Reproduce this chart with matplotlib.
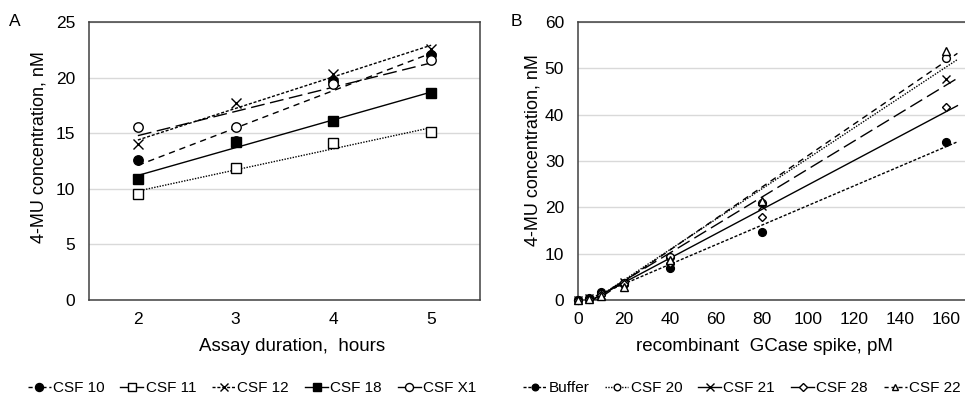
import numpy as np
import matplotlib
matplotlib.use("Agg")
import matplotlib.pyplot as plt
from matplotlib.lines import Line2D

plt.rcParams['font.family'] = ['Liberation Sans', 'DejaVu Sans']

# panel A: assay duration
hours = [2, 3, 4, 5]
csf10 = [12.6, 14.3, 19.7, 22.0]
csf11 = [9.5, 11.9, 14.1, 15.1]
csf12 = [14.0, 17.7, 20.3, 22.6]
csf18 = [10.9, 14.2, 16.1, 18.6]
csfx1 = [15.6, 15.6, 19.4, 21.6]

# panel B: GCase spike
spike = [0, 5, 10, 20, 40, 80, 160]
buffer_ = [0.0, 0.4, 1.8, 3.5, 7.0, 14.6, 34.0]
csf20 = [0.0, 0.3, 1.2, 3.6, 9.3, 21.0, 52.2]
csf21 = [0.0, 0.4, 1.0, 3.8, 8.5, 20.2, 47.8]
csf28 = [0.0, 0.3, 1.0, 3.4, 8.0, 18.0, 41.7]
csf22 = [0.0, 0.2, 0.8, 2.7, 8.7, 21.3, 53.7]

fine = (0, (2.2, 1.3))
dash = (0, (4.5, 3.5))
dot = (0, (1, 1))
longd = (0, (10, 4))
solid = '-'

# name, y, marker, filled, trend style, legend style
series_a = [
    ("CSF 10", csf10, 'o', True, dash, (0, (3, 2))),
    ("CSF 11", csf11, 's', False, dot, solid),
    ("CSF 12", csf12, 'x', False, fine, fine),
    ("CSF 18", csf18, 's', True, solid, solid),
    ("CSF X1", csfx1, 'o', False, longd, solid),
]
series_b = [
    ("Buffer", buffer_, 'o', True, fine, fine),
    ("CSF 20", csf20, 'o', False, dot, dot),
    ("CSF 21", csf21, 'x', False, longd, solid),
    ("CSF 28", csf28, 'D', False, solid, solid),
    ("CSF 22", csf22, '^', False, dash, (0, (3, 2))),
]

SPINE = '#404040'
GRID = '#d9d9d9'

fig = plt.figure(figsize=(9.65, 3.95), dpi=100)
axA = fig.add_axes([89 / 965, 95 / 395, 391 / 965, 278 / 395])
axB = fig.add_axes([578 / 965, 95 / 395, 387 / 965, 278 / 395])


def draw(ax, x, series, ms, x_end):
    handles = []
    for name, y, mk, filled, ts, ls in series:
        fc = 'black' if filled else 'white'
        mks = ms * (0.8 if mk == 'D' else 1.0) * (1.1 if mk == 'x' else 1.0)
        ax.plot(x, y, linestyle='none', marker=mk, markersize=mks,
                markerfacecolor=fc, markeredgecolor='black',
                markeredgewidth=1.0, zorder=4, clip_on=False)
        k, b = np.polyfit(x, y, 1)
        xx = np.array([x[0], x_end])
        ax.plot(xx, k * xx + b, color='black', linestyle=ts, linewidth=1.0,
                zorder=3)
        handles.append(Line2D([], [], color='black', linestyle=ls,
                              linewidth=1.0, marker=mk, markersize=mks * 0.85,
                              markerfacecolor=fc, markeredgecolor='black',
                              label=name))
    return handles


hA = draw(axA, hours, series_a, 6.8, 5)
hB = draw(axB, spike, series_b, 5.6, 165)

axA.set_xlim(1.5, 5.5)
axA.set_ylim(0, 25)
axA.set_xticks(hours)
axA.set_yticks([0, 5, 10, 15, 20, 25])
axB.set_xlim(0, 168.3)
axB.set_ylim(0, 60)
axB.set_xticks(range(0, 161, 20))
axB.set_yticks(range(0, 61, 10))

for ax in (axA, axB):
    ax.yaxis.grid(True, color=GRID, linewidth=1.0)
    ax.set_axisbelow(True)
    ax.tick_params(length=0, labelsize=12.5)
    ax.tick_params(axis='y', pad=10)
    ax.tick_params(axis='x', pad=9)
    for s in ax.spines.values():
        s.set_color(SPINE)
        s.set_linewidth(1.1)
axB.spines['right'].set_visible(False)

axA.set_xlabel("Assay duration,  hours", fontsize=13.5, va='center')
axA.xaxis.set_label_coords(0.52, -0.169)
axA.set_ylabel("4-MU concentration, nM", fontsize=13, va='center')
axA.yaxis.set_label_coords(-0.128, 0.55)

axB.set_xlabel("recombinant  GCase spike, pM", fontsize=13.5, va='center')
axB.xaxis.set_label_coords(0.483, -0.169)
axB.set_ylabel("4-MU concentration, nM", fontsize=13, va='center')
axB.yaxis.set_label_coords(-0.116, 0.54)

fig.text(15 / 965, 1 - 22 / 395, "A", fontsize=12.5, ha='center', va='center')
fig.text(516 / 965, 1 - 22 / 395, "B", fontsize=12.5, ha='center', va='center')

legkw = dict(ncol=5, frameon=False, fontsize=11, handlelength=1.5,
             handletextpad=0.15, columnspacing=1.05, loc='center')
fig.legend(handles=hA, bbox_to_anchor=(252 / 965, 1 - 388 / 395), **legkw)
fig.legend(handles=hB, bbox_to_anchor=(742 / 965, 1 - 388 / 395), **legkw)

fig.savefig("out.png", dpi=100)
